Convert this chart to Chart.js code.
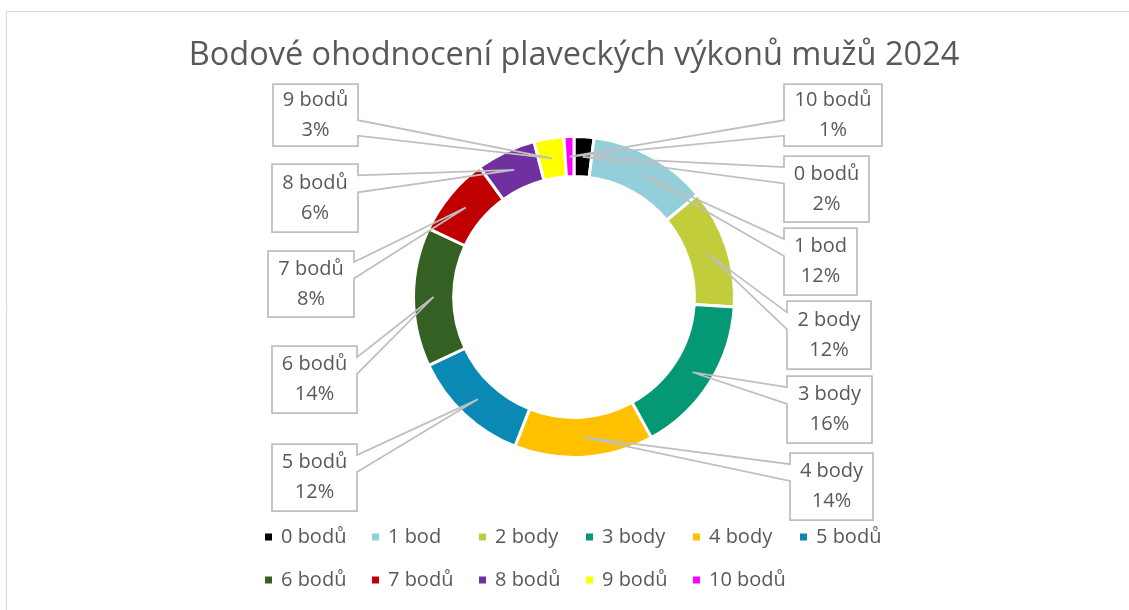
<!DOCTYPE html>
<html>
<head>
<meta charset="utf-8">
<script src="https://cdn.jsdelivr.net/npm/chart.js@4/dist/chart.umd.min.js"></script>
<style>
    html, body { margin: 0; padding: 0; background: #fff; }
    #wrap { width: 1129px; height: 610px; }
</style>
</head>
<body>
<div id="wrap"><canvas id="bodyChart" width="1129" height="610"></canvas></div>
<script>
// Data: share of points (%)
const categories = ['0 bodů', '1 bod', '2 body', '3 body', '4 body', '5 bodů', '6 bodů', '7 bodů', '8 bodů', '9 bodů', '10 bodů'];
const shares = [2, 12, 12, 16, 14, 12, 14, 8, 6, 3, 1];
const sliceColors = ['#000000', '#92CFDB', '#C2CD3B', '#059874', '#FFC000', '#0A89B4', '#356024', '#C00000', '#7030A0', '#FFFF00', '#FF00FF'];
const chartTitle = 'Bodové ohodnocení plaveckých výkonů mužů 2024';

// Label layout (left, top, width, height) - positions only, not data
const calloutBoxes = [
    [784, 156, 85, 66],
    [784, 228, 73, 67],
    [787, 301, 84, 68],
    [787, 376, 85, 67],
    [790, 453, 83, 67],
    [272, 444, 85, 67],
    [272, 346, 85, 67],
    [268, 251, 86, 66],
    [272, 164, 86, 68],
    [273, 84, 85, 62],
    [784, 84, 98, 62]
];

const textColor = '#595959';
const lineColor = '#BFBFBF';
const fontFamily = '"Open Sans", sans-serif';

// Excel-like wedge callout (rectangle with a tail)
function wedgePath(ctx, l, t, w, h, px, py) {
    const r = l + w, b = t + h, hc = l + w / 2, vc = t + h / 2;
    const dx = px - hc, dy = py - vc;
    const dq = dx * h / w;
    const dz = Math.abs(dy) - Math.abs(dq);
    const x1 = l + w * (dx > 0 ? 7 : 2) / 12, x2 = l + w * (dx > 0 ? 10 : 5) / 12;
    const y1 = t + h * (dy > 0 ? 7 : 2) / 12, y2 = t + h * (dy > 0 ? 10 : 5) / 12;
    ctx.beginPath();
    ctx.moveTo(l, t);
    if (dz > 0 && dy < 0) { ctx.lineTo(x1, t); ctx.lineTo(px, py); ctx.lineTo(x2, t); }
    ctx.lineTo(r, t);
    if (dz <= 0 && dx > 0) { ctx.lineTo(r, y1); ctx.lineTo(px, py); ctx.lineTo(r, y2); }
    ctx.lineTo(r, b);
    if (dz > 0 && dy > 0) { ctx.lineTo(x2, b); ctx.lineTo(px, py); ctx.lineTo(x1, b); }
    ctx.lineTo(l, b);
    if (dz <= 0 && dx < 0) { ctx.lineTo(l, y2); ctx.lineTo(px, py); ctx.lineTo(l, y1); }
    ctx.closePath();
}

const framePlugin = {
    id: 'frame',
    beforeDraw(chart) {
        const ctx = chart.ctx;
        ctx.save();
        ctx.strokeStyle = '#D9D9D9';
        ctx.lineWidth = 1;
        ctx.beginPath();
        ctx.moveTo(6.5, 610);
        ctx.lineTo(6.5, 11.5);
        ctx.lineTo(1129, 11.5);
        ctx.stroke();
        ctx.restore();
    }
};

const calloutPlugin = {
    id: 'callouts',
    afterDatasetsDraw(chart) {
        const ctx = chart.ctx;
        const meta = chart.getDatasetMeta(0);
        const total = shares.reduce((a, b) => a + b, 0);
        ctx.save();
        meta.data.forEach((arc, i) => {
            const tip = arc.tooltipPosition();
            const [bx, by, bw, bh] = calloutBoxes[i];
            ctx.fillStyle = '#fff';
            ctx.fillRect(bx, by, bw, bh);
            wedgePath(ctx, bx, by, bw, bh, tip.x, tip.y);
            ctx.strokeStyle = lineColor;
            ctx.lineWidth = 1.75;
            ctx.lineJoin = 'miter';
            ctx.stroke();

            ctx.fillStyle = textColor;
            ctx.font = '20px ' + fontFamily;
            ctx.textAlign = 'center';
            ctx.textBaseline = 'middle';
            const cx = bx + bw / 2, cy = by + bh / 2;
            ctx.fillText(categories[i], cx, cy - 15);
            ctx.fillText(Math.round(shares[i] / total * 100) + '%', cx, cy + 15);
        });
        ctx.restore();
    },
    afterDraw(chart) {
        // Legend - two rows of six columns
        const ctx = chart.ctx;
        ctx.save();
        ctx.font = '20px ' + fontFamily;
        ctx.textAlign = 'left';
        ctx.textBaseline = 'middle';
        categories.forEach((name, i) => {
            const col = i % 6, row = Math.floor(i / 6);
            const x = 265 + col * 107;
            const y = 537 + row * 43;
            ctx.fillStyle = sliceColors[i];
            ctx.fillRect(x, y - 3.5, 7, 7);
            ctx.fillStyle = textColor;
            ctx.fillText(name, x + 16, y);
        });
        ctx.restore();
    }
};

new Chart(document.getElementById('bodyChart'), {
    type: 'doughnut',
    data: {
        labels: categories,
        datasets: [{
            data: shares,
            backgroundColor: sliceColors,
            borderColor: '#ffffff',
            borderWidth: 3
        }]
    },
    options: {
        responsive: false,
        devicePixelRatio: 1,
        animation: false,
        radius: 160.5,
        cutout: '75%',
        layout: { padding: { left: 19, right: 0, top: 0, bottom: 96 } },
        plugins: {
            legend: { display: false },
            tooltip: { enabled: false },
            title: {
                display: true,
                text: chartTitle,
                color: textColor,
                font: { family: fontFamily, size: 32.5, weight: 'normal', lineHeight: 1.2 },
                padding: { top: 36, bottom: 5 }
            }
        }
    },
    plugins: [framePlugin, calloutPlugin]
});
</script>
</body>
</html>
